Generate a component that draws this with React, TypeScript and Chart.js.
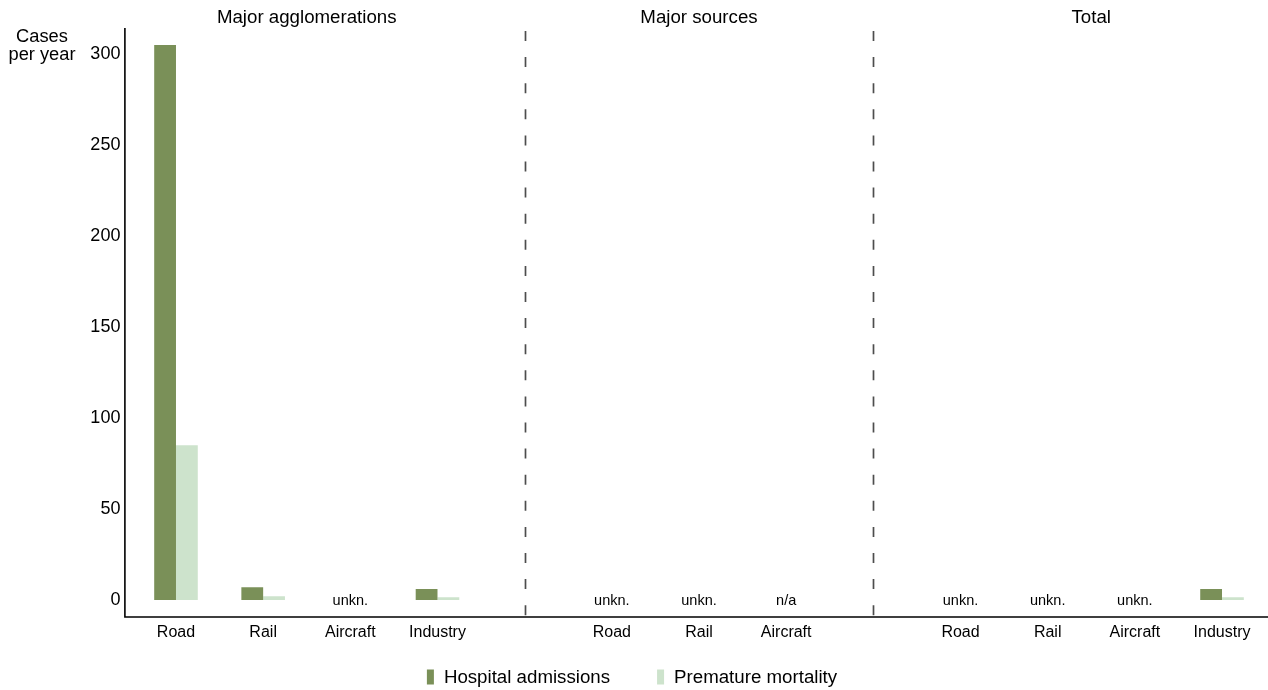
import React, { useEffect, useRef } from "react";
import { Chart, registerables } from "chart.js";

Chart.register(...registerables);

const categories = ["Road", "Rail", "Aircraft", "Industry", "", "Road", "Rail", "Aircraft", "", "Road", "Rail", "Aircraft", "Industry"];
const hospitalAdmissions = [305, 7, null, 6, null, null, null, null, null, null, null, null, 6];
const prematureMortality = [85, 2, null, 1.5, null, null, null, null, null, null, null, null, 1.5];
const valueNotes = ["", "", "unkn.", "", "", "unkn.", "unkn.", "n/a", "", "unkn.", "unkn.", "unkn.", ""];
const groupTitles = ["Major agglomerations", "Major sources", "Total"];
const groupFirst = [0, 5, 9];
const groupLast = [3, 7, 12];
const separatorIndex = [4, 8];
const yTicks = [0, 50, 100, 150, 200, 250, 300];
const yAxisTitle = ["Cases", "per year"];
const seriesNames = ["Hospital admissions", "Premature mortality"];
const seriesColors = ["#7a9058", "#cde3cc"];

const FONT = '"Liberation Sans", Arial, sans-serif';

const decorPlugin = {
  id: "decor",
  afterDraw(chart: any) {
    const { ctx, chartArea, scales } = chart;
    const x = scales.x;
    const y = scales.y;
    ctx.save();
    // separators
    ctx.strokeStyle = "#4d4d4d";
    ctx.lineWidth = 1.7;
    ctx.setLineDash([10, 16.1]);
    separatorIndex.forEach((i) => {
      const px = Math.round(x.getPixelForValue(i)) + 0.5;
      ctx.beginPath();
      ctx.moveTo(px, chartArea.top + 3);
      ctx.lineTo(px, chartArea.bottom);
      ctx.stroke();
    });
    ctx.setLineDash([]);
    // axes lines
    const axisX = chartArea.left - 7.5;
    ctx.strokeStyle = "#000000";
    ctx.lineWidth = 1.6;
    ctx.beginPath();
    ctx.moveTo(axisX, chartArea.top);
    ctx.lineTo(axisX, chartArea.bottom);
    ctx.lineTo(chart.width, chartArea.bottom);
    ctx.stroke();
    // group titles
    ctx.fillStyle = "#000000";
    ctx.font = `18.7px ${FONT}`;
    ctx.textAlign = "center";
    ctx.textBaseline = "middle";
    groupTitles.forEach((t, i) => {
      const cx = (x.getPixelForValue(groupFirst[i]) + x.getPixelForValue(groupLast[i])) / 2;
      ctx.fillText(t, cx, chartArea.top - 10);
    });
    // y axis title
    ctx.font = `18.3px ${FONT}`;
    yAxisTitle.forEach((t, i) => {
      ctx.fillText(t, 42, chartArea.top + 9 + i * 18);
    });
    // notes
    ctx.font = `14.5px ${FONT}`;
    const y0 = y.getPixelForValue(0);
    valueNotes.forEach((n, i) => {
      if (n) ctx.fillText(n, x.getPixelForValue(i), y0 + 1);
    });
    // legend
    ctx.font = `18.7px ${FONT}`;
    const boxW = 7;
    const boxH = 15;
    const gap = 10;
    const spacing = 47;
    const widths = seriesNames.map((s) => boxW + gap + ctx.measureText(s).width);
    const total = widths.reduce((a, b) => a + b, 0) + spacing * (seriesNames.length - 1);
    let lx = chart.width / 2 - total / 2 - 2;
    const ly = chartArea.bottom + 60;
    ctx.textAlign = "left";
    seriesNames.forEach((s, i) => {
      ctx.fillStyle = seriesColors[i];
      ctx.fillRect(lx, ly - boxH / 2, boxW, boxH);
      ctx.fillStyle = "#000000";
      ctx.fillText(s, lx + boxW + gap, ly + 1);
      lx += widths[i] + spacing;
    });
    ctx.restore();
  },
};

export default function App() {
  const ref = useRef<HTMLCanvasElement>(null);
  useEffect(() => {
    if (!ref.current) return;
    Chart.defaults.font.family = FONT;
    const chart = new Chart(ref.current, {
      type: "bar",
      data: {
        labels: categories,
        datasets: [
          {
            label: seriesNames[0],
            data: hospitalAdmissions,
            backgroundColor: seriesColors[0],
            categoryPercentage: 0.5,
            barPercentage: 1.0,
          },
          {
            label: seriesNames[1],
            data: prematureMortality,
            backgroundColor: seriesColors[1],
            categoryPercentage: 0.5,
            barPercentage: 1.0,
          },
        ],
      },
      options: {
        animation: false,
        responsive: true,
        maintainAspectRatio: false,
        layout: { padding: { top: 28, right: 2.4, bottom: 33, left: 0 } },
        plugins: {
          legend: { display: false },
          tooltip: { enabled: false },
        },
        scales: {
          x: {
            type: "category",
            offset: true,
            grid: { display: false, drawTicks: false },
            border: { display: false },
            ticks: {
              color: "#000000",
              font: { size: 16, family: FONT },
              padding: 6,
              maxRotation: 0,
              autoSkip: false,
            },
            afterFit(scale: any) {
              scale.height = 40;
            },
          },
          y: {
            type: "linear",
            min: -9.34,
            max: 314.3,
            grid: { display: false, drawTicks: false },
            border: { display: false },
            ticks: {
              color: "#000000",
              font: { size: 18, family: FONT },
              padding: 12,
            },
            afterBuildTicks(scale: any) {
              scale.ticks = yTicks.map((v) => ({ value: v }));
            },
            afterFit(scale: any) {
              scale.width = 132.4;
            },
          },
        },
      },
      plugins: [decorPlugin],
    });
    return () => chart.destroy();
  }, []);
  return (
    <div style={{ position: "fixed", left: 0, top: 0, width: 1268, height: 690, background: "#ffffff" }}>
      <canvas ref={ref} />
    </div>
  );
}
